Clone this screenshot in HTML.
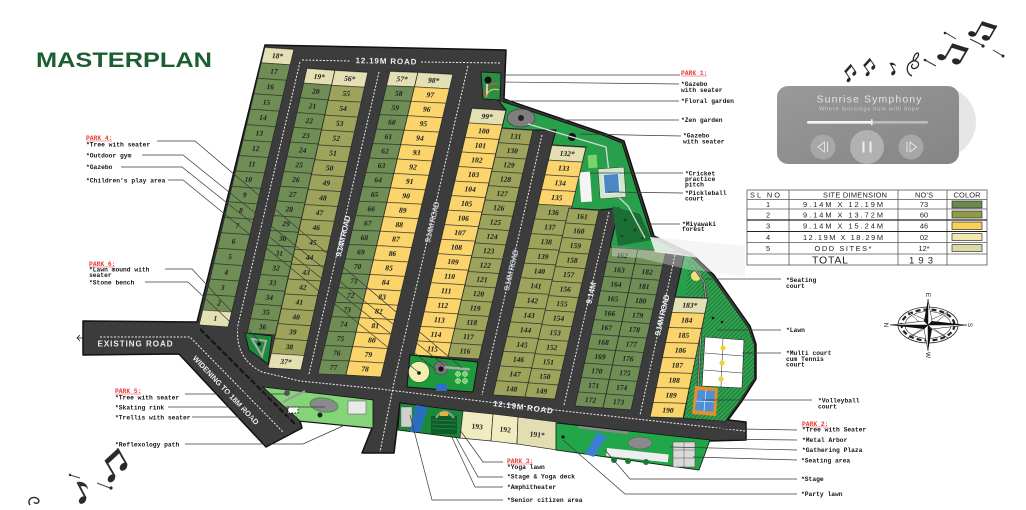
<!DOCTYPE html>
<html><head><meta charset="utf-8">
<style>
html,body{margin:0;padding:0;background:#fff;width:1026px;height:510px;overflow:hidden}
svg{display:block}
.n{font:bold 7.5px 'Liberation Serif',serif;fill:#262626;text-anchor:middle}
.l{font:bold 6.3px 'Liberation Mono',monospace;fill:#161616}
.pk{font:bold 6.3px 'Liberation Mono',monospace;fill:#e53935}
.rd{font:bold 8px 'Liberation Sans',sans-serif;fill:#e9eef2;text-anchor:middle}
.t{font:7.4px 'Liberation Sans',sans-serif;fill:#222;text-anchor:middle}
</style></head>
<body>
<svg width="1026" height="510" viewBox="0 0 1026 510" xmlns="http://www.w3.org/2000/svg">
<defs>
<pattern id="p1" width="40" height="15.444" patternUnits="userSpaceOnUse"><rect width="40" height=".7" fill="#2b2b2b"/></pattern>
<pattern id="p2" width="40" height="14.722" patternUnits="userSpaceOnUse"><rect width="40" height=".7" fill="#2b2b2b"/></pattern>
<pattern id="p3" width="40" height="14.9" patternUnits="userSpaceOnUse"><rect width="40" height=".7" fill="#2b2b2b"/></pattern>
<pattern id="p4" width="40" height="14.4286" patternUnits="userSpaceOnUse"><rect width="40" height=".7" fill="#2b2b2b"/></pattern>
<pattern id="p6" width="40" height="14.529" patternUnits="userSpaceOnUse"><rect width="40" height=".7" fill="#2b2b2b"/></pattern>
<pattern id="p7" width="40" height="14.3125" patternUnits="userSpaceOnUse"><rect width="40" height=".7" fill="#2b2b2b"/></pattern>
<pattern id="p8" width="40" height="14.706" patternUnits="userSpaceOnUse"><rect width="40" height=".7" fill="#2b2b2b"/></pattern>
<pattern id="p9" width="40" height="14.538" patternUnits="userSpaceOnUse"><rect width="40" height=".7" fill="#2b2b2b"/></pattern>
<pattern id="p10" width="40" height="14.4545" patternUnits="userSpaceOnUse"><rect width="40" height=".7" fill="#2b2b2b"/></pattern>
<pattern id="p12" width="40" height="15" patternUnits="userSpaceOnUse"><rect width="40" height=".7" fill="#2b2b2b"/></pattern>
<pattern id="hatch" width="3" height="3" patternUnits="userSpaceOnUse" patternTransform="rotate(45)"><rect width="3" height="3" fill="#33a550"/><rect width="1.1" height="3" fill="#1d7a38"/></pattern>
<linearGradient id="card" x1="0" y1="0" x2="1" y2="1"><stop offset="0" stop-color="#999"/><stop offset="1" stop-color="#858585"/></linearGradient>
<g id="bn"><ellipse cx="0" cy="14" rx="3.3" ry="2.4" transform="rotate(-20 0 14)"/><ellipse cx="12" cy="11" rx="3.3" ry="2.4" transform="rotate(-20 12 11)"/><rect x="2.2" y="0" width="1.4" height="14"/><rect x="14.2" y="-3" width="1.4" height="14"/><polygon points="2.2,0 15.6,-3 15.6,0.6 2.2,3.6"/></g>
<g id="sn"><ellipse cx="0" cy="14" rx="3.3" ry="2.4" transform="rotate(-20 0 14)"/><rect x="2.2" y="0" width="1.4" height="14"/><path d="M3.6,0 q6,3 4,9 q0,-4 -4,-5z"/></g>
</defs>

<!-- title -->
<text x="36" y="67" font-family="'Liberation Sans',sans-serif" font-weight="bold" font-size="21" fill="#1b5e30" textLength="176" lengthAdjust="spacingAndGlyphs">MASTERPLAN</text>

<!-- music notes top right -->
<g fill="#262626">
<use href="#bn" transform="translate(980,20) rotate(30) scale(1.15)"/>
<use href="#bn" transform="translate(950,42) rotate(30) scale(1.25)"/>
<use href="#bn" transform="translate(843,72) rotate(-35) scale(.7)"/>
<use href="#bn" transform="translate(862,66) rotate(-35) scale(.7)"/>
<use href="#sn" transform="translate(888,64) rotate(-30) scale(.75)"/>
<path d="M912,76 c-7,-3 -6,-13 1,-15 c5,-1 8,4 3,7 c-4,2 -6,-2 -3,-4 M913,61 q1,-8 5,-8 q2,3 -4,8" fill="none" stroke="#262626" stroke-width="1.3"/>
<line x1="925" y1="60" x2="936" y2="66" stroke="#333" stroke-width="1"/><circle cx="925" cy="60" r="1.3"/>
<line x1="946" y1="33" x2="956" y2="39" stroke="#333" stroke-width="1"/><circle cx="945" cy="33" r="1.3"/>
<line x1="970" y1="39" x2="982" y2="45" stroke="#333" stroke-width="1"/><circle cx="983" cy="46" r="1.6"/>
<line x1="993" y1="50" x2="1003" y2="56" stroke="#333" stroke-width="1"/><circle cx="1003" cy="56" r="1.5"/>
</g>
<!-- music notes bottom left -->
<g fill="#2a2a2a">
<use href="#bn" transform="translate(102,462) rotate(-30) scale(1.35)"/>
<use href="#sn" transform="translate(74,484) rotate(-28) scale(1.3)"/>
<path d="M30,505 c-4,-6 4,-10 8,-6 c3,3 -2,6 -4,3" fill="none" stroke="#2a2a2a" stroke-width="1.4"/>
<line x1="70" y1="475" x2="80" y2="478" stroke="#444" stroke-width="1"/><circle cx="70" cy="475" r="1.2"/>
<line x1="97" y1="483" x2="110" y2="488" stroke="#444" stroke-width="1"/><circle cx="111" cy="488" r="1.6"/>
</g>

<!-- music player -->
<circle cx="940" cy="122" r="36" fill="#e6e6e6"/>
<rect x="777" y="86" width="182" height="78" rx="11" fill="url(#card)"/>
<text x="869" y="102.5" font-family="'Liberation Sans',sans-serif" font-size="10.5" fill="#dfe4ea" text-anchor="middle" textLength="105">Sunrise Symphony</text>
<text x="869" y="110.5" font-family="'Liberation Sans',sans-serif" font-size="5.5" fill="#d0d0d0" text-anchor="middle" textLength="100">Where mornings hum with hope</text>
<rect x="807" y="121" width="121" height="2.6" rx="1.3" fill="#bcbcbc"/>
<rect x="807" y="121" width="65" height="2.6" rx="1.3" fill="#f4f4f4"/>
<rect x="871" y="119.3" width="1.6" height="6" fill="#eee"/>
<circle cx="823" cy="147" r="12.5" fill="#a7a7a7"/>
<circle cx="867" cy="147" r="17" fill="#b1b1b1"/>
<circle cx="911" cy="147" r="12.5" fill="#a7a7a7"/>
<polygon points="824.5,142 818,147 824.5,152" fill="none" stroke="#e6e6e6" stroke-width=".9"/>
<line x1="827.5" y1="142" x2="827.5" y2="152" stroke="#e6e6e6" stroke-width="1"/>
<rect x="862.5" y="141.5" width="2" height="11" fill="#efefef"/><rect x="869.5" y="141.5" width="2" height="11" fill="#efefef"/>
<line x1="907" y1="142" x2="907" y2="152" stroke="#e6e6e6" stroke-width="1"/>
<polygon points="910,142 916.5,147 910,152" fill="none" stroke="#e6e6e6" stroke-width=".9"/>

<!-- table -->
<g stroke="#555" stroke-width=".8" fill="none">
<rect x="747" y="190" width="240" height="75"/>
<line x1="789" y1="190" x2="789" y2="265"/><line x1="898" y1="190" x2="898" y2="265"/><line x1="947" y1="190" x2="947" y2="265"/>
<line x1="747" y1="199.5" x2="987" y2="199.5"/><line x1="747" y1="209" x2="987" y2="209"/>
<line x1="747" y1="220" x2="987" y2="220" stroke="#222" stroke-width="1.2"/>
<line x1="747" y1="231.5" x2="987" y2="231.5" stroke="#222" stroke-width="1.1"/>
<line x1="747" y1="242.5" x2="987" y2="242.5"/><line x1="747" y1="254" x2="987" y2="254"/>
</g>
<text class="t" x="765" y="197.5" textLength="30">SL NO</text><text class="t" x="855" y="197.5" textLength="64">SITE DIMENSION</text><text class="t" x="924" y="197.5" textLength="18">NO'S</text><text class="t" x="967" y="197.5" textLength="27">COLOR</text>
<text class="t" x="768" y="207">1</text><text class="t" x="843" y="207" textLength="80">9.14M   X  12.19M</text><text class="t" x="924" y="207">73</text>
<text class="t" x="768" y="217.5">2</text><text class="t" x="843" y="217.5" textLength="80">9.14M   X  13.72M</text><text class="t" x="924" y="217.5">60</text>
<text class="t" x="768" y="228.5">3</text><text class="t" x="843" y="228.5" textLength="80">9.14M   X  15.24M</text><text class="t" x="924" y="228.5">46</text>
<text class="t" x="768" y="240">4</text><text class="t" x="843" y="240" textLength="80">12.19M  X  18.29M</text><text class="t" x="924" y="240">02</text>
<text class="t" x="768" y="251">5</text><text class="t" x="843" y="251" textLength="57">ODD  SITES*</text><text class="t" x="924" y="251">12*</text>
<text class="t" x="830" y="263.5" style="font-size:10.5px" textLength="36">TOTAL</text><text class="t" x="921" y="263.5" style="font-size:9.5px" textLength="24">193</text>
<g stroke="#333" stroke-width=".7">
<rect x="952" y="201" width="30" height="7" fill="#6a8a4c"/>
<rect x="952" y="211" width="30" height="7" fill="#8e9a45"/>
<rect x="952" y="222" width="30" height="7.5" fill="#f9cf56"/>
<rect x="952" y="233.5" width="30" height="7" fill="#f2e8b0"/>
<rect x="952" y="244.5" width="30" height="7" fill="#ddd9a5"/>
</g>

<!-- compass -->
<g transform="translate(928,325)">
<ellipse rx="30" ry="18" fill="#fff" stroke="#222" stroke-width=".8"/>
<ellipse rx="26.5" ry="15.5" fill="none" stroke="#222" stroke-width="2.2" stroke-dasharray="5 3"/>
<ellipse rx="23" ry="13.5" fill="none" stroke="#222" stroke-width=".6"/>
<g fill="#fff" stroke="#222" stroke-width=".5">
<polygon points="-20,-13 2,-3 -3,2"/><polygon points="20,-13 3,2 -2,-3"/><polygon points="-20,13 -2,3 3,-2"/><polygon points="20,13 -3,-2 2,3"/>
</g>
<polygon points="0,-26 4,-4 39,0 4,4 0,26 -4,4 -38,0 -4,-4" fill="#111"/>
<g fill="#fff" stroke="#111" stroke-width=".5">
<polygon points="0,-26 4,-4 0,0"/><polygon points="39,0 4,4 0,0"/><polygon points="0,26 -4,4 0,0"/><polygon points="-38,0 -4,-4 0,0"/>
</g>
<g font-family="'Liberation Sans',sans-serif" font-size="6.5" fill="#222" text-anchor="middle">
<text transform="translate(0,-30) rotate(90)" y="2">E</text>
<text transform="translate(0,30) rotate(90)" y="2">W</text>
<text transform="translate(-42,0) rotate(90)" y="2">N</text>
<text transform="translate(42,0) rotate(90)" y="2">S</text>
</g>
</g>

<!-- MAP base (roads) -->
<polygon points="265,45 506,50 504,99 606,134 624,141 654,236 692,254 714,275 750,326 756,344 756,379 742,401 728,420 746,422 746,440 710,441 556,423 465,412 400,403 394,453 362,453 372,428 300,421 302,428 266,447 179,354 83,355 83,321 197,322" fill="#3c3c3c" stroke="#111" stroke-width="1.5" stroke-linejoin="round"/>

<!-- green parks (upper/right) -->
<polygon points="498,100 605,136 622,143 652,238 690,256 712,277 748,328 754,345 754,378 740,400 725,421 684,418 707,298 675,297 685,252 666,251 610,247 619,208 599,210 569,208 586,147 552,145 556,130 533,130 502,128 506,110" fill="#28a04b" stroke="#111" stroke-width="1"/>
<polygon points="690,256 712,277 748,328 754,345 754,378 740,400 725,421 684,418 707,298 686,296 688,262" fill="url(#hatch)"/>
<polygon points="612,206 640,214 652,240 618,246" fill="#1b6e34"/>
<g fill="#0e4a22"><circle cx="625" cy="220" r="1.5"/><circle cx="635" cy="230" r="1.5"/><circle cx="622" cy="236" r="1.3"/><circle cx="642" cy="238" r="1.3"/></g>
<ellipse cx="521" cy="118" rx="14" ry="9" fill="#7e7e7e" stroke="#333" stroke-width=".6"/>
<circle cx="521" cy="118" r="3" fill="#222"/>
<circle cx="572" cy="137" r="4" fill="#111"/>
<polyline points="528,124 606,147 611,190 628,206 645,238" fill="none" stroke="#d8d8d8" stroke-width="1.3"/>
<rect x="588" y="155" width="9" height="13" fill="#7ad36b" transform="rotate(-4 592 161)"/>
<rect x="580" y="172" width="11" height="30" fill="#f4f4f4" transform="rotate(-4 585 187)"/>
<rect x="599" y="168" width="26" height="30" fill="#cfe8cd" stroke="#333" stroke-width=".5" transform="rotate(-4 612 183)"/>
<rect x="604" y="174" width="15" height="19" fill="#4c86c6" stroke="#fff" stroke-width=".6" transform="rotate(-4 612 183)"/>
<circle cx="696" cy="276" r="5" fill="#f0e27a"/>
<polyline points="693,266 704,282 706,300 701,330 697,410" fill="none" stroke="#444" stroke-width="2.4"/>
<polyline points="693,266 704,282 706,300 701,330 697,410" fill="none" stroke="#bbb" stroke-width=".7"/>
<circle cx="713" cy="318" r="1.3" fill="#111"/><circle cx="722" cy="322" r="1.3" fill="#111"/>
<polygon points="705,337 744,340 742,388 702,386" fill="#fff" stroke="#222" stroke-width=".6"/>
<g stroke="#222" stroke-width=".5"><line x1="705" y1="353" x2="743" y2="356"/><line x1="704" y1="370" x2="742" y2="373"/><line x1="723" y1="338" x2="721" y2="387"/></g>
<g fill="#f2d230"><circle cx="723" cy="348" r="2.6"/><circle cx="722" cy="363" r="2.6"/><circle cx="721" cy="379" r="2.6"/></g>
<polygon points="695,386 718,388 716,416 692,414" fill="#e0902e"/>
<polygon points="698,390 715,391 713,412 695,410" fill="#4f8fd6"/>
<g stroke="#fff" stroke-width=".6"><line x1="696" y1="401" x2="714" y2="402"/><line x1="706" y1="390" x2="704" y2="411"/></g>

<!-- park 1 -->
<polygon points="481,72 501,73 500,100 483,99" fill="#2a8f45" stroke="#111" stroke-width=".8"/>
<path d="M484,96 Q486,82 498,84" fill="none" stroke="#e84c3d" stroke-width="1.2"/>
<path d="M486,97 Q489,87 499,90" fill="none" stroke="#f3c63b" stroke-width="1.2"/>
<circle cx="488" cy="80" r="3.5" fill="#111"/>
<rect x="486" y="84" width="2" height="10" fill="#ccc"/>

<!-- columns -->
<g transform="matrix(1 .069 -.237 1 265 47)"><rect width="29" height="278" fill="#6f8e55"/><rect width="29" height="15.44" fill="#e4e0b4"/><rect y="262.56" width="29" height="15.44" fill="#e4e0b4"/><rect width="29" height="278" fill="url(#p1)"/><rect width="29" height="278" fill="none" stroke="#2a2a2a" stroke-width=".8"/>
<text class="n"><tspan x="14.5" y="10.4">18*</tspan><tspan x="14.5" dy="15.444">17</tspan><tspan x="14.5" dy="15.444">16</tspan><tspan x="14.5" dy="15.444">15</tspan><tspan x="14.5" dy="15.444">14</tspan><tspan x="14.5" dy="15.444">13</tspan><tspan x="14.5" dy="15.444">12</tspan><tspan x="14.5" dy="15.444">11</tspan><tspan x="14.5" dy="15.444">10</tspan><tspan x="14.5" dy="15.444">9</tspan><tspan x="14.5" dy="15.444">8</tspan><tspan x="14.5" dy="15.444">7</tspan><tspan x="14.5" dy="15.444">6</tspan><tspan x="14.5" dy="15.444">5</tspan><tspan x="14.5" dy="15.444">4</tspan><tspan x="14.5" dy="15.444">3</tspan><tspan x="14.5" dy="15.444">2</tspan><tspan x="14.5" dy="15.444">1</tspan></text></g>

<g transform="matrix(1 .071 -.226 1 307 68)"><rect width="28" height="265" fill="#6f8e55"/><rect width="28" height="14.722" fill="#e4e0b4"/><rect width="28" height="265" fill="url(#p2)"/><rect width="28" height="265" fill="none" stroke="#2a2a2a" stroke-width=".8"/>
<text class="n"><tspan x="14" y="10.1">19*</tspan><tspan x="14" dy="14.722">20</tspan><tspan x="14" dy="14.722">21</tspan><tspan x="14" dy="14.722">22</tspan><tspan x="14" dy="14.722">23</tspan><tspan x="14" dy="14.722">24</tspan><tspan x="14" dy="14.722">25</tspan><tspan x="14" dy="14.722">26</tspan><tspan x="14" dy="14.722">27</tspan><tspan x="14" dy="14.722">28</tspan><tspan x="14" dy="14.722">29</tspan><tspan x="14" dy="14.722">30</tspan><tspan x="14" dy="14.722">31</tspan><tspan x="14" dy="14.722">32</tspan><tspan x="14" dy="14.722">33</tspan><tspan x="14" dy="14.722">34</tspan><tspan x="14" dy="14.722">35</tspan><tspan x="14" dy="14.722">36</tspan></text></g>

<g transform="matrix(1 .06 -.225 1 335 70)"><rect width="33" height="298" fill="#9da35a"/><rect width="33" height="14.9" fill="#e4e0b4"/><rect y="283.1" width="33" height="14.9" fill="#e4e0b4"/><rect width="33" height="298" fill="url(#p3)"/><rect width="33" height="298" fill="none" stroke="#2a2a2a" stroke-width=".8"/>
<text class="n"><tspan x="16.5" y="10.15">56*</tspan><tspan x="16.5" dy="14.9">55</tspan><tspan x="16.5" dy="14.9">54</tspan><tspan x="16.5" dy="14.9">53</tspan><tspan x="16.5" dy="14.9">52</tspan><tspan x="16.5" dy="14.9">51</tspan><tspan x="16.5" dy="14.9">50</tspan><tspan x="16.5" dy="14.9">49</tspan><tspan x="16.5" dy="14.9">48</tspan><tspan x="16.5" dy="14.9">47</tspan><tspan x="16.5" dy="14.9">46</tspan><tspan x="16.5" dy="14.9">45</tspan><tspan x="16.5" dy="14.9">44</tspan><tspan x="16.5" dy="14.9">43</tspan><tspan x="16.5" dy="14.9">42</tspan><tspan x="16.5" dy="14.9">41</tspan><tspan x="16.5" dy="14.9">40</tspan><tspan x="16.5" dy="14.9">39</tspan><tspan x="16.5" dy="14.9">38</tspan><tspan x="16.5" dy="14.9">37*</tspan></text></g>

<g transform="matrix(1 .036 -.238 1 390 71)"><rect width="28" height="303" fill="#6f8e55"/><rect width="28" height="14.43" fill="#e4e0b4"/><rect width="28" height="303" fill="url(#p4)"/><rect width="28" height="303" fill="none" stroke="#2a2a2a" stroke-width=".8"/>
<text class="n"><tspan x="14" y="9.9">57*</tspan><tspan x="14" dy="14.4286">58</tspan><tspan x="14" dy="14.4286">59</tspan><tspan x="14" dy="14.4286">60</tspan><tspan x="14" dy="14.4286">61</tspan><tspan x="14" dy="14.4286">62</tspan><tspan x="14" dy="14.4286">63</tspan><tspan x="14" dy="14.4286">64</tspan><tspan x="14" dy="14.4286">65</tspan><tspan x="14" dy="14.4286">66</tspan><tspan x="14" dy="14.4286">67</tspan><tspan x="14" dy="14.4286">68</tspan><tspan x="14" dy="14.4286">69</tspan><tspan x="14" dy="14.4286">70</tspan><tspan x="14" dy="14.4286">71</tspan><tspan x="14" dy="14.4286">72</tspan><tspan x="14" dy="14.4286">73</tspan><tspan x="14" dy="14.4286">74</tspan><tspan x="14" dy="14.4286">75</tspan><tspan x="14" dy="14.4286">76</tspan><tspan x="14" dy="14.4286">77</tspan></text></g>

<g transform="matrix(1 .057 -.238 1 418 72)"><rect width="35" height="303" fill="#fbd56b"/><rect width="35" height="14.43" fill="#e4e0b4"/><rect width="35" height="303" fill="url(#p4)"/><rect width="35" height="303" fill="none" stroke="#2a2a2a" stroke-width=".8"/>
<text class="n"><tspan x="17.5" y="9.9">98*</tspan><tspan x="17.5" dy="14.4286">97</tspan><tspan x="17.5" dy="14.4286">96</tspan><tspan x="17.5" dy="14.4286">95</tspan><tspan x="17.5" dy="14.4286">94</tspan><tspan x="17.5" dy="14.4286">93</tspan><tspan x="17.5" dy="14.4286">92</tspan><tspan x="17.5" dy="14.4286">91</tspan><tspan x="17.5" dy="14.4286">90</tspan><tspan x="17.5" dy="14.4286">89</tspan><tspan x="17.5" dy="14.4286">88</tspan><tspan x="17.5" dy="14.4286">87</tspan><tspan x="17.5" dy="14.4286">86</tspan><tspan x="17.5" dy="14.4286">85</tspan><tspan x="17.5" dy="14.4286">84</tspan><tspan x="17.5" dy="14.4286">83</tspan><tspan x="17.5" dy="14.4286">82</tspan><tspan x="17.5" dy="14.4286">81</tspan><tspan x="17.5" dy="14.4286">80</tspan><tspan x="17.5" dy="14.4286">79</tspan><tspan x="17.5" dy="14.4286">78</tspan></text></g>

<g transform="matrix(1 .059 -.235 1 472 108)"><rect width="34" height="247" fill="#fbd56b"/><rect width="34" height="14.53" fill="#e4e0b4"/><rect width="34" height="247" fill="url(#p6)"/><rect width="34" height="247" fill="none" stroke="#2a2a2a" stroke-width=".8"/>
<text class="n"><tspan x="17" y="9.96">99*</tspan><tspan x="17" dy="14.529">100</tspan><tspan x="17" dy="14.529">101</tspan><tspan x="17" dy="14.529">102</tspan><tspan x="17" dy="14.529">103</tspan><tspan x="17" dy="14.529">104</tspan><tspan x="17" dy="14.529">105</tspan><tspan x="17" dy="14.529">106</tspan><tspan x="17" dy="14.529">107</tspan><tspan x="17" dy="14.529">108</tspan><tspan x="17" dy="14.529">109</tspan><tspan x="17" dy="14.529">110</tspan><tspan x="17" dy="14.529">111</tspan><tspan x="17" dy="14.529">112</tspan><tspan x="17" dy="14.529">113</tspan><tspan x="17" dy="14.529">114</tspan><tspan x="17" dy="14.529">115</tspan></text></g>

<g transform="matrix(1 .065 -.236 1 502 128)"><rect width="31" height="229" fill="#9da35a"/><rect width="31" height="229" fill="url(#p7)"/><rect width="31" height="229" fill="none" stroke="#2a2a2a" stroke-width=".8"/>
<text class="n"><tspan x="15.5" y="9.86">131</tspan><tspan x="15.5" dy="14.3125">130</tspan><tspan x="15.5" dy="14.3125">129</tspan><tspan x="15.5" dy="14.3125">128</tspan><tspan x="15.5" dy="14.3125">127</tspan><tspan x="15.5" dy="14.3125">126</tspan><tspan x="15.5" dy="14.3125">125</tspan><tspan x="15.5" dy="14.3125">124</tspan><tspan x="15.5" dy="14.3125">123</tspan><tspan x="15.5" dy="14.3125">122</tspan><tspan x="15.5" dy="14.3125">121</tspan><tspan x="15.5" dy="14.3125">120</tspan><tspan x="15.5" dy="14.3125">119</tspan><tspan x="15.5" dy="14.3125">118</tspan><tspan x="15.5" dy="14.3125">117</tspan><tspan x="15.5" dy="14.3125">116</tspan></text></g>

<g transform="matrix(1 .059 -.236 1 552 145)"><rect width="34" height="250" fill="#9da35a"/><rect width="34" height="14.706" fill="#e4e0b4"/><rect y="14.706" width="34" height="44.12" fill="#fbd56b"/><rect width="34" height="250" fill="url(#p8)"/><rect width="34" height="250" fill="none" stroke="#2a2a2a" stroke-width=".8"/>
<text class="n"><tspan x="17" y="10.05">132*</tspan><tspan x="17" dy="14.706">133</tspan><tspan x="17" dy="14.706">134</tspan><tspan x="17" dy="14.706">135</tspan><tspan x="17" dy="14.706">136</tspan><tspan x="17" dy="14.706">137</tspan><tspan x="17" dy="14.706">138</tspan><tspan x="17" dy="14.706">139</tspan><tspan x="17" dy="14.706">140</tspan><tspan x="17" dy="14.706">141</tspan><tspan x="17" dy="14.706">142</tspan><tspan x="17" dy="14.706">143</tspan><tspan x="17" dy="14.706">144</tspan><tspan x="17" dy="14.706">145</tspan><tspan x="17" dy="14.706">146</tspan><tspan x="17" dy="14.706">147</tspan><tspan x="17" dy="14.706">148</tspan></text></g>

<g transform="matrix(1 .069 -.233 1 569 208)"><rect width="30" height="189" fill="#9da35a"/><rect width="30" height="189" fill="url(#p9)"/><rect width="30" height="189" fill="none" stroke="#2a2a2a" stroke-width=".8"/>
<text class="n"><tspan x="15" y="9.97">161</tspan><tspan x="15" dy="14.538">160</tspan><tspan x="15" dy="14.538">159</tspan><tspan x="15" dy="14.538">158</tspan><tspan x="15" dy="14.538">157</tspan><tspan x="15" dy="14.538">156</tspan><tspan x="15" dy="14.538">155</tspan><tspan x="15" dy="14.538">154</tspan><tspan x="15" dy="14.538">153</tspan><tspan x="15" dy="14.538">152</tspan><tspan x="15" dy="14.538">151</tspan><tspan x="15" dy="14.538">150</tspan><tspan x="15" dy="14.538">149</tspan></text></g>

<g transform="matrix(1 .07 -.22 1 610 247)"><rect width="28" height="159" fill="#6f8e55"/><rect width="28" height="159" fill="url(#p10)"/><rect width="28" height="159" fill="none" stroke="#2a2a2a" stroke-width=".8"/>
<text class="n"><tspan x="14" y="9.93">162</tspan><tspan x="14" dy="14.4545">163</tspan><tspan x="14" dy="14.4545">164</tspan><tspan x="14" dy="14.4545">165</tspan><tspan x="14" dy="14.4545">166</tspan><tspan x="14" dy="14.4545">167</tspan><tspan x="14" dy="14.4545">168</tspan><tspan x="14" dy="14.4545">169</tspan><tspan x="14" dy="14.4545">170</tspan><tspan x="14" dy="14.4545">171</tspan><tspan x="14" dy="14.4545">172</tspan></text></g>

<g transform="matrix(1 .07 -.22 1 638 249)"><rect width="28" height="159" fill="#6f8e55"/><rect width="28" height="159" fill="url(#p10)"/><rect width="28" height="159" fill="none" stroke="#2a2a2a" stroke-width=".8"/>
<text class="n"><tspan x="14" y="24.38">182</tspan><tspan x="14" dy="14.4545">181</tspan><tspan x="14" dy="14.4545">180</tspan><tspan x="14" dy="14.4545">179</tspan><tspan x="14" dy="14.4545">178</tspan><tspan x="14" dy="14.4545">177</tspan><tspan x="14" dy="14.4545">176</tspan><tspan x="14" dy="14.4545">175</tspan><tspan x="14" dy="14.4545">174</tspan><tspan x="14" dy="14.4545">173</tspan></text></g>

<g transform="matrix(1 .03 -.208 1 675 297)"><rect width="33" height="120" fill="#fbd56b"/><rect width="33" height="15" fill="#e4e0b4"/><rect width="33" height="120" fill="url(#p12)"/><rect width="33" height="120" fill="none" stroke="#2a2a2a" stroke-width=".8"/>
<text class="n"><tspan x="16.5" y="10.2">183*</tspan><tspan x="16.5" dy="15">184</tspan><tspan x="16.5" dy="15">185</tspan><tspan x="16.5" dy="15">186</tspan><tspan x="16.5" dy="15">187</tspan><tspan x="16.5" dy="15">188</tspan><tspan x="16.5" dy="15">189</tspan><tspan x="16.5" dy="15">190</tspan></text></g>

<!-- Miyawaki haze overlay -->
<polygon points="650,237 745,246 745,277 712,272 700,258 655,252" fill="#f4f4f4" opacity=".88"/>
<polygon points="612,246 668,251 700,258 712,272 690,270 640,258 612,256" fill="#f4f4f4" opacity=".35"/>

<!-- park 4 -->
<polygon points="410,355 478,362 473,392 407,387" fill="#1e9a3d" stroke="#111" stroke-width="1"/>
<circle cx="419" cy="372" r="10.5" fill="#f3efb0" stroke="#333" stroke-width=".5"/>
<circle cx="419" cy="373" r="1.8" fill="#111"/>
<circle cx="441" cy="368" r="7" fill="#777" stroke="#333" stroke-width=".5"/>
<circle cx="441" cy="369" r="2.5" fill="#111"/>
<rect x="445" y="366" width="25" height="2.5" fill="#aaa" transform="rotate(5 445 366)"/>
<g fill="#7ad36b" stroke="#fff" stroke-width=".5"><circle cx="458" cy="374" r="2.5"/><circle cx="465" cy="374" r="2.5"/><circle cx="458" cy="381" r="2.5"/><circle cx="465" cy="381" r="2.5"/></g>
<rect x="436" y="384" width="11" height="7" fill="#2d6fc4"/>

<!-- park 6 -->
<polygon points="245,333 272,336 268,364 249,350" fill="#1e8a3b" stroke="#111" stroke-width=".8"/>
<polygon points="252,339 266,341 262,356" fill="none" stroke="#aaa" stroke-width="2"/>
<circle cx="259" cy="344" r="1.8" fill="#111"/>

<!-- dashed road centerlines -->
<g fill="none" stroke="#eee" stroke-width="1" stroke-dasharray="2 1.5">
<path d="M302,60 L350,61 M421,62 L500,63"/>
<path d="M300,62 L238,325 Q234,358 262,372 L300,381 L380,389 L555,410 L745,431"/>
<path d="M379,72 L309,374"/>
<path d="M468,66 L395,378 L380,452"/>
<path d="M542,135 L482,395"/>
<path d="M609,212 L564,405"/>
<path d="M675,255 L640,415"/>
<path d="M100,337 L190,337 L283,432"/>
</g>
<path d="M200,329 L296,425" stroke="#151515" stroke-width="2.2" stroke-dasharray="6 2" fill="none"/>
<path d="M83,338 L77,338 M80,335 L77,338 L80,341" stroke="#222" stroke-width=".8" fill="none"/>

<!-- road labels -->
<text class="rd" transform="translate(386,61) rotate(1.3)" y="2.8" textLength="61">12.19M ROAD</text>
<text class="rd" transform="translate(523,407) rotate(7.3)" y="2.8" textLength="60">12.19M ROAD</text>
<text class="rd" transform="translate(343,236) rotate(-76.7)" y="2.8" textLength="42">9.14M ROAD</text>
<text class="rd" transform="translate(432,222) rotate(-76.7)" y="2.8" textLength="42" opacity=".75">9.14M ROAD</text>
<text class="rd" transform="translate(511,270) rotate(-76.7)" y="2.8" textLength="42" opacity=".75">9.14M ROAD</text>
<text class="rd" transform="translate(591,293) rotate(-76.7)" y="2.8" textLength="22">9.14M</text>
<text class="rd" transform="translate(662,315) rotate(-76.7)" y="2.8" textLength="42">9.14M ROAD</text>
<text class="rd" x="135" y="346.5" textLength="75">EXISTING ROAD</text>
<text class="rd" transform="translate(226,390) rotate(46.5)" y="2.8" textLength="92" style="font-size:7.5px">WIDENING TO 18M ROAD</text>

<!-- park 5 -->
<polygon points="263,387 373,400 373,428 300,421" fill="#86d47a" stroke="#111" stroke-width=".8"/>
<ellipse cx="324" cy="405" rx="14" ry="7" fill="#8a8a8a" stroke="#3c9b3c" stroke-width="1" transform="rotate(8 324 405)"/>
<rect x="348" y="401" width="18" height="13" fill="#e9e9e9" stroke="#555" stroke-width=".5"/>
<line x1="283" y1="402" x2="305" y2="391" stroke="#999" stroke-width="2"/>
<circle cx="287" cy="393" r="3" fill="#555"/>
<rect x="288" y="407" width="10" height="6" fill="#fff" stroke="#111" stroke-width="1" stroke-dasharray="1.5 1.5"/>
<circle cx="320" cy="415" r="2.5" fill="#222"/>

<!-- park 3 -->
<polygon points="400,403 463,411 460,438 398,430" fill="#1a8a3a" stroke="#111" stroke-width=".8"/>
<rect x="401" y="407" width="11" height="20" fill="#cfcfcf" stroke="#555" stroke-width=".4"/>
<polygon points="416,405 428,407 420,432 410,432" fill="#2a6ec0"/>
<rect x="431" y="416" width="26" height="18" fill="#0d5e2b"/>
<g stroke="#2a8a45" stroke-width=".8"><line x1="432" y1="420" x2="456" y2="421"/><line x1="432" y1="424" x2="456" y2="425"/><line x1="432" y1="428" x2="456" y2="429"/></g>
<path d="M436,418 Q444,405 454,418" fill="none" stroke="#999" stroke-width="2"/>
<rect x="440" y="412" width="8" height="4" fill="#e3b23c"/>

<!-- plots 191-193 -->
<polygon points="463,411 493,414 491,441 460,438" fill="#f1ebc0" stroke="#2a2a2a" stroke-width=".7"/>
<polygon points="493,414 518,417 517,444 491,441" fill="#f1ebc0" stroke="#2a2a2a" stroke-width=".7"/>
<polygon points="518,417 557,422 557,450 517,444" fill="#e2deb2" stroke="#2a2a2a" stroke-width=".7"/>
<text class="n" transform="translate(477,429) rotate(6)">193</text>
<text class="n" transform="translate(505,432) rotate(6)">192</text>
<text class="n" transform="translate(537,437) rotate(6)">191*</text>

<!-- park 2 -->
<polygon points="556,423 710,440 699,470 556,450" fill="#22a64a" stroke="#111" stroke-width=".8"/>
<polygon points="597,433 607,436 594,457 585,454" fill="#3b7fd0"/>
<line x1="578" y1="427" x2="628" y2="433" stroke="#8a8a8a" stroke-width="2.5"/>
<ellipse cx="640" cy="443" rx="12" ry="6" fill="#8a8a8a" stroke="#555" stroke-width=".5"/>
<rect x="607" y="448" width="62" height="8" fill="#eee" transform="rotate(6 607 448)"/>
<g fill="#1b7a36"><circle cx="614" cy="460" r="3"/><circle cx="628" cy="461" r="3"/><circle cx="646" cy="462" r="3"/></g>
<rect x="673" y="442" width="22" height="25" fill="#d9d9d9" stroke="#444" stroke-width=".5"/>
<g stroke="#555" stroke-width=".5"><line x1="673" y1="450" x2="695" y2="450"/><line x1="673" y1="458" x2="695" y2="458"/><line x1="684" y1="442" x2="684" y2="467"/></g>
<circle cx="563" cy="437" r="1.6" fill="#111"/>

<!-- leader lines -->
<g fill="none" stroke="#3a3a3a" stroke-width=".7">
<path d="M157,141 H195 L462,368"/>
<path d="M142,155 H183 L445,366"/>
<path d="M121,167 H182 L436,370"/>
<path d="M168,180 H183 L418,372"/>
<path d="M165,269 H192 L260,342"/>
<path d="M145,282 H188 L247,338"/>
<path d="M185,394 H287"/>
<path d="M168,407 H325"/>
<path d="M192,417 H297"/>
<path d="M185,444 H303 L345,425"/>
<path d="M500,75 H680"/>
<path d="M503,82 L679,84"/>
<path d="M497,101 H679"/>
<path d="M557,120 H679"/>
<path d="M580,134 L681,136"/>
<path d="M590,173 H683"/>
<path d="M608,192 L683,193"/>
<path d="M650,224 H680"/>
<path d="M705,279 H781"/>
<path d="M717,330 H781"/>
<path d="M742,353 H781"/>
<path d="M703,400 H812"/>
<path d="M690,428 L797,430"/>
<path d="M707,439 L797,440"/>
<path d="M670,447 L797,450"/>
<path d="M693,457 L797,460"/>
<path d="M605,450 L630,479 H797"/>
<path d="M563,440 L625,494 H797"/>
<path d="M503,462 H483 L460,430"/>
<path d="M503,477 H478 L453,432"/>
<path d="M503,487 H475 L450,433"/>
<path d="M503,500 H432 L410,415"/>
</g>

<!-- labels -->
<text class="pk" x="86" y="140">PARK 4:</text><line x1="86" y1="141" x2="112" y2="141" stroke="#e53935" stroke-width=".6"/>
<text class="l" x="86" y="146.5">*Tree with seater</text>
<text class="l" x="86" y="157.5">*Outdoor gym</text>
<text class="l" x="86" y="169">*Gazebo</text>
<text class="l" x="86" y="182.5">*Children's play area</text>

<text class="pk" x="89" y="266">PARK 6:</text><line x1="89" y1="267" x2="115" y2="267" stroke="#e53935" stroke-width=".6"/>
<text class="l" x="89" y="271.5">*Lawn mound with</text>
<text class="l" x="89" y="277">seater</text>
<text class="l" x="89" y="284.5">*Stone bench</text>

<text class="pk" x="115" y="393">PARK 5:</text><line x1="115" y1="394" x2="141" y2="394" stroke="#e53935" stroke-width=".6"/>
<text class="l" x="115" y="399.5">*Tree with seater</text>
<text class="l" x="115" y="409.5">*Skating rink</text>
<text class="l" x="115" y="419.5">*Trellis with seater</text>
<text class="l" x="115" y="446.5">*Reflexology path</text>

<text class="pk" x="681" y="75">PARK 1:</text><line x1="681" y1="76" x2="707" y2="76" stroke="#e53935" stroke-width=".6"/>
<text class="l" x="681" y="86">*Gazebo</text><text class="l" x="681" y="92">with seater</text>
<text class="l" x="681" y="103">*Floral garden</text>
<text class="l" x="681" y="122">*Zen garden</text>
<text class="l" x="683" y="137.7">*Gazebo</text><text class="l" x="683" y="143.3">with seater</text>
<text class="l" x="685" y="175.3">*Cricket</text><text class="l" x="685" y="181">practice</text><text class="l" x="685" y="186.7">pitch</text>
<text class="l" x="685" y="195">*Pickleball</text><text class="l" x="685" y="200.7">court</text>
<text class="l" x="682" y="226">*Miyawaki</text><text class="l" x="682" y="231">forest</text>

<text class="l" x="786" y="282">*Seating</text><text class="l" x="786" y="288">court</text>
<text class="l" x="786" y="332">*Lawn</text>
<text class="l" x="786" y="355">*Multi court</text><text class="l" x="786" y="361">cum Tennis</text><text class="l" x="786" y="366.7">court</text>
<text class="l" x="818" y="402.7">*Volleyball</text><text class="l" x="818" y="408.3">court</text>

<text class="pk" x="802" y="426">PARK 2:</text><line x1="802" y1="427" x2="828" y2="427" stroke="#e53935" stroke-width=".6"/>
<text class="l" x="802" y="431.7">*Tree with Seater</text>
<text class="l" x="802" y="442">*Metal Arbor</text>
<text class="l" x="802" y="452">*Gathering Plaza</text>
<text class="l" x="801" y="462.5">*Seating area</text>
<text class="l" x="801" y="481">*Stage</text>
<text class="l" x="801" y="496">*Party lawn</text>

<text class="pk" x="507" y="463">PARK 3:</text><line x1="507" y1="464" x2="533" y2="464" stroke="#e53935" stroke-width=".6"/>
<text class="l" x="507" y="469">*Yoga lawn</text>
<text class="l" x="507" y="478.7">*Stage &amp; Yoga deck</text>
<text class="l" x="507" y="489">*Amphitheater</text>
<text class="l" x="507" y="502">*Senior citizen area</text>
</svg>
</body></html>
